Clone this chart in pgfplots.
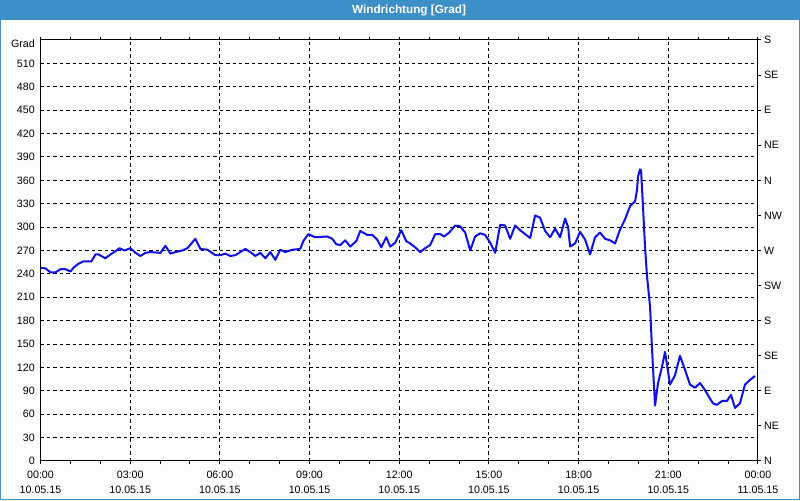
\documentclass[border=0pt]{standalone}
\usepackage{fontspec}
\setmainfont{Liberation Sans}
\usepackage{pgfplots}
\pgfplotsset{compat=1.18}
\definecolor{titlebar}{HTML}{3C8FC7}
\definecolor{bgc}{HTML}{FCFEFE}
\definecolor{linec}{HTML}{0F0FE6}
\begin{document}
\begin{tikzpicture}
\fill[bgc] (0pt,0pt) rectangle (600pt,375pt);
\fill[titlebar] (0pt,360pt) rectangle (600pt,375pt);
\draw[titlebar, line width=0.75pt] (0.375pt,0.375pt) rectangle (599.625pt,374.625pt);
\node[text=white, font=\bfseries\fontsize{8.8}{10}\selectfont] at (306.8pt,367.5pt) {Windrichtung [Grad]};
\begin{axis}[
  at={(30.375pt,29.25pt)}, anchor=south west,
  scale only axis, width=538.1pt, height=315.75pt,
  xmin=0, xmax=24, ymin=0, ymax=540,
  xtick={0,3,...,24},
  xticklabels={00:00\\10.05.15,03:00\\10.05.15,06:00\\10.05.15,09:00\\10.05.15,12:00\\10.05.15,15:00\\10.05.15,18:00\\10.05.15,21:00\\10.05.15,00:00\\11.05.15},
  minor x tick num=2,
  ytick={0,30,...,540},
  yticklabels={0,30,60,90,120,150,180,210,240,270,300,330,360,390,420,450,480,510,\raisebox{-3pt}[6pt][0pt]{Grad}},
  axis line style={black, line width=0.75pt},
  tick align=outside,
  major tick length=2.6pt, minor tick length=2.6pt,
  every tick/.style={black, line width=0.75pt},
  ytick style={draw=none},
  xmajorgrids, ymajorgrids,
  major grid style={black, line width=0.75pt, dash pattern=on 2.6pt off 2.2pt},
  xticklabel style={font=\fontsize{8}{11.5}\selectfont, align=center, inner sep=1pt, yshift=-3.5pt},
  yticklabel style={font=\fontsize{8}{10}\selectfont, inner sep=1.5pt},
  axis on top=false,
]
\addplot[linec, line width=1.5pt, line join=round] table {
t v
0.000 248
0.167 247
0.334 242
0.501 242
0.669 246
0.836 246
1.003 243
1.103 248
1.270 253
1.437 256
1.705 256
1.838 265
1.939 265
2.173 260
2.340 265
2.507 269
2.641 273
2.808 270
3.008 273
3.175 267
3.342 263
3.509 267
3.676 268
4.011 267
4.178 276
4.345 266
4.512 268
4.746 270
4.914 273
5.181 285
5.348 272
5.582 271
5.850 264
6.017 264
6.184 266
6.351 263
6.518 264
6.852 272
7.019 268
7.187 263
7.354 267
7.521 260
7.688 268
7.855 258
8.022 271
8.189 268
8.423 271
8.691 272
8.791 282
8.958 291
9.192 287
9.593 288
9.760 285
9.894 278
10.028 277
10.195 283
10.362 275
10.563 282
10.696 295
10.930 290
11.097 290
11.265 284
11.398 274
11.565 287
11.699 275
11.866 280
12.067 296
12.234 282
12.368 279
12.535 274
12.702 268
12.869 273
13.036 277
13.203 291
13.371 291
13.504 288
13.671 293
13.872 302
14.039 301
14.206 293
14.373 270
14.540 288
14.707 292
14.875 290
15.042 280
15.209 267
15.376 303
15.543 302
15.710 285
15.877 302
16.044 296
16.379 286
16.546 315
16.713 312
16.880 295
17.047 287
17.214 298
17.381 287
17.549 311
17.649 300
17.716 275
17.883 279
18.050 294
18.217 284
18.384 265
18.551 287
18.718 293
18.886 285
19.053 283
19.220 279
19.387 297
19.554 310
19.721 327
19.888 333
19.955 348
19.988 365
20.055 374
20.089 373
20.156 325
20.223 274
20.289 237
20.390 198
20.457 143
20.490 119
20.557 71
20.657 100
20.791 121
20.891 140
21.058 98
21.225 110
21.392 135
21.559 117
21.727 98
21.894 94
22.061 100
22.228 91
22.395 80
22.495 74
22.629 72
22.796 77
22.963 77
23.097 85
23.231 68
23.398 74
23.565 98
23.732 104
23.900 109
};
\end{axis}
\begin{axis}[
  at={(30.375pt,29.25pt)}, anchor=south west,
  scale only axis, width=538.1pt, height=315.75pt,
  xmin=0, xmax=24, ymin=0, ymax=540,
  axis x line=none,
  axis y line*=right,
  ytick={0,45,...,540},
  yticklabels={N,NE,E,SE,S,SW,W,NW,N,NE,E,SE,S},
  axis line style={black, line width=0.75pt},
  tick align=outside,
  major tick length=2.6pt,
  every tick/.style={black, line width=0.75pt},
  yticklabel style={font=\fontsize{8}{10}\selectfont, inner sep=1pt, xshift=0.8pt},
]
\addplot[draw=none] coordinates {(0,0)};
\end{axis}
\pgfresetboundingbox
\useasboundingbox (0pt,0pt) rectangle (600pt,375pt);
\end{tikzpicture}
\end{document}
